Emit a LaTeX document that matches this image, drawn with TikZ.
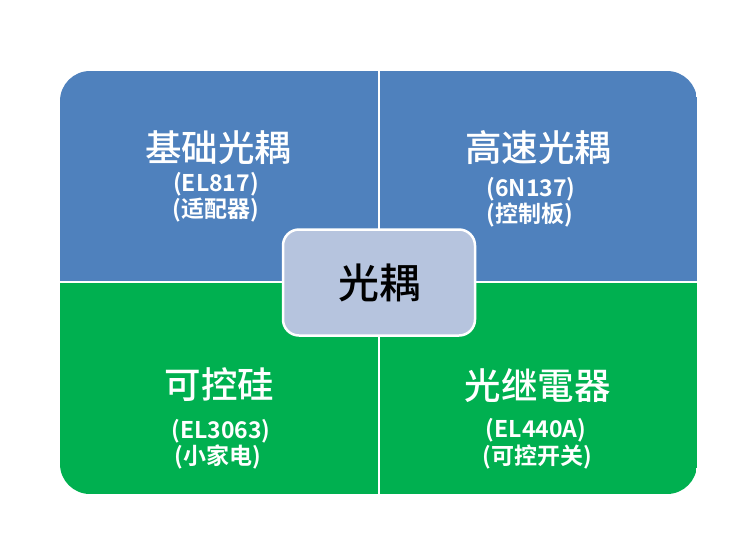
\documentclass[tikz,border=0pt]{standalone}
\usepackage{fontspec}
\setmainfont{Noto Sans CJK SC}[BoldFont={* Bold},FontFace={mb}{n}{Font=* Medium}]
\definecolor{qblue}{HTML}{4F81BD}
\definecolor{qgreen}{HTML}{00B050}
\definecolor{cfill}{RGB}{182,196,222}
\tikzset{
  quad/.style={draw=none,inner sep=0,outer sep=0},
  ttl/.style={text=white,font=\fontseries{mb}\fontsize{36.5}{40}\selectfont,inner sep=0},
  sub/.style={text=white,font=\bfseries\fontsize{23}{26}\selectfont,inner sep=0},
  hub/.style={draw=white,line width=2.5pt,fill=cfill,rounded corners=16pt,minimum width=192pt,minimum height=106pt,font=\fontseries{mb}\fontsize{41}{46}\selectfont,text=black},
  divider/.style={draw=white,line width=2.5pt}
}
\begin{document}
\begin{tikzpicture}[x=1pt,y=-1pt]
\useasboundingbox (0,0) rectangle (746,544);
\begin{scope}
\clip[rounded corners=30pt] (60,71) rectangle (697,494);
\fill[qblue] (60,71) rectangle (379,282);
\fill[qblue] (379,71) rectangle (697,282);
\fill[qgreen] (60,282) rectangle (379,494);
\fill[qgreen] (379,282) rectangle (697,494);
\end{scope}
\coordinate (vt) at (379,71);
\coordinate (vb) at (379,494);
\coordinate (hl) at (60,282);
\coordinate (hr) at (697,282);
\draw[divider] (vt) -- (vb);
\draw[divider] (hl) -- (hr);
\node[hub] (c) at (379,282.5) {光耦};
% top-left
\node[ttl] (t1) at (218,148) {基础光耦};
\node[sub] (t1a) at (216,184) {(EL817)};
\node[sub] (t1b) at (216,210) {(适配器)};
% top-right
\node[ttl] (t2) at (538,148) {高速光耦};
\node[sub] (t2a) at (531,189) {(6N137)};
\node[sub] (t2b) at (530,215) {(控制板)};
% bottom-left
\node[ttl] (t3) at (219.5,385) {可控硅};
\node[sub] (t3a) at (221,431) {(EL3063)};
\node[sub] (t3b) at (217.5,457) {(小家电)};
% bottom-right
\node[ttl] (t4) at (537.5,386) {光继電器};
\node[sub] (t4a) at (536,430) {(EL440A)};
\node[sub] (t4b) at (537.5,457) {(可控开关)};
\end{tikzpicture}
\end{document}
